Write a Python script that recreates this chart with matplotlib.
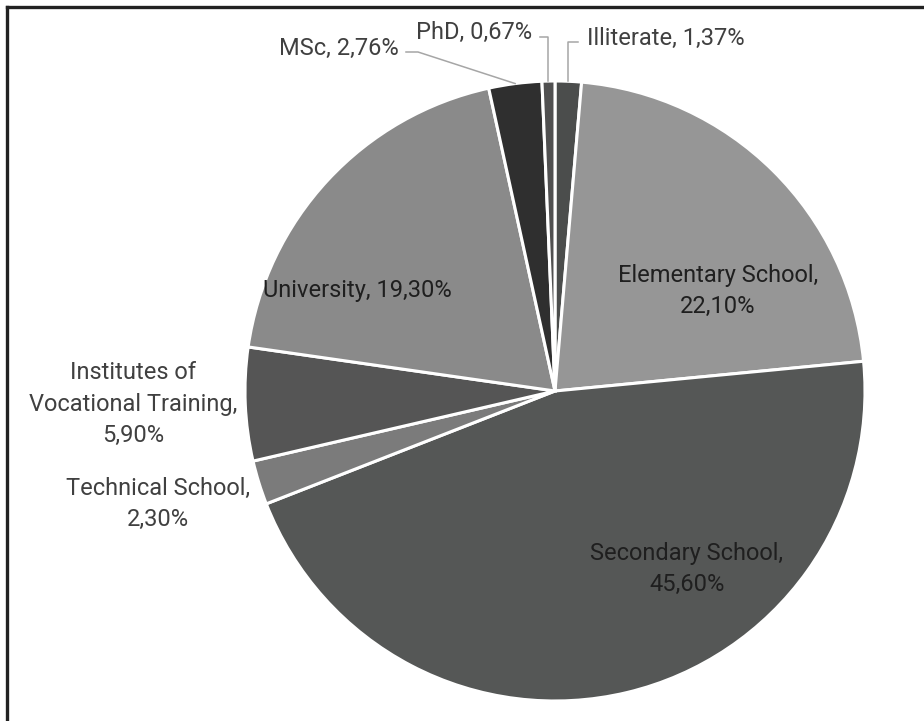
import matplotlib
matplotlib.use("Agg")
import matplotlib.pyplot as plt
import numpy as np

# Education level distribution (clockwise from 12 o'clock)
categories = ["Illiterate", "Elementary School", "Secondary School", "Technical School",
              "Institutes of\nVocational Training", "University", "MSc", "PhD"]
shares = [1.37, 22.10, 45.60, 2.30, 5.90, 19.30, 2.76, 0.67]
value_labels = ["1,37%", "22,10%", "45,60%", "2,30%", "5,90%", "19,30%", "2,76%", "0,67%"]
colors = ["#4b4d4c", "#969696", "#555756", "#7b7b7b", "#555555", "#8a8a8a", "#2f2f2f", "#505050"]

W, H = 924, 721
fig = plt.figure(figsize=(W / 100, H / 100), dpi=100)
plt.rcParams['font.family'] = ['Roboto', 'DejaVu Sans']

# pie placed in pixel space: centre (555, 391), radius 310
cx, cy, R = 555, 391, 310
ax = fig.add_axes([(cx - R) / W, (H - cy - R) / H, 2 * R / W, 2 * R / H])

wedges, _ = ax.pie(shares, colors=colors, startangle=90, counterclock=False, radius=1,
                   wedgeprops=dict(edgecolor="white", linewidth=2.2))
ax.set_xlim(-1, 1)
ax.set_ylim(-1, 1)
ax.set_aspect('equal')
ax.axis('off')

def px2d(px, py):
    return (px - cx) / R, (cy - py) / R

fs = 17
lsp = 1.45
txt_in = "#1f1f1f"
txt_out = "#404040"

def label(i, sep=", "):
    return categories[i] + sep + value_labels[i]

# labels placed inside the large wedges
for i, (px, py) in {1: (718, 291), 2: (687, 569)}.items():
    x, y = px2d(px, py)
    ax.text(x, y, categories[i] + ",\n" + value_labels[i], ha="center", va="center",
            fontsize=fs, color=txt_in, linespacing=lsp)
x, y = px2d(357, 290)
ax.text(x, y, label(5), ha="center", va="center", fontsize=fs, color=txt_in)

# outside labels on the left
x, y = px2d(133, 404)
ax.text(x, y, categories[4] + ",\n" + value_labels[4], ha="center", va="center",
        fontsize=fs, color=txt_out, linespacing=lsp, clip_on=False)
x, y = px2d(158, 504)
ax.text(x, y, categories[3] + ",\n" + value_labels[3], ha="center", va="center",
        fontsize=fs, color=txt_out, linespacing=lsp, clip_on=False)

# leader-line labels for the small wedges at the top
def wedge_edge(w):
    a = np.deg2rad((w.theta1 + w.theta2) / 2)
    return np.cos(a), np.sin(a)

line_kw = dict(color="#a6a6a6", linewidth=1.1)

# MSc
ex, ey = wedge_edge(wedges[6])
tx, ty = px2d(339, 48)
kx, ky = px2d(418, 52)
sx, _ = px2d(406, 52)
ax.plot([sx, kx, ex], [ky, ky, ey], clip_on=False, **line_kw)
ax.text(tx, ty, label(6), ha="center", va="center", fontsize=fs, color=txt_out)

# PhD
ex, ey = wedge_edge(wedges[7])
tx, ty = px2d(474, 32)
sx, sy = px2d(540, 37)
ax.plot([sx, ex, ex], [sy, sy, ey], clip_on=False, **line_kw)
ax.text(tx, ty, label(7), ha="center", va="center", fontsize=fs, color=txt_out)

# Illiterate
ex, ey = wedge_edge(wedges[0])
tx, ty = px2d(666, 38)
sx, sy = px2d(578, 42)
ax.plot([ex, ex, sx], [ey, sy, sy], clip_on=False, **line_kw)
ax.text(tx, ty, label(0), ha="center", va="center", fontsize=fs, color=txt_out)

# frame lines along the top and left edges
fig.add_artist(plt.Line2D([7 / W, 1], [1 - 7 / H, 1 - 7 / H], color="#222222", linewidth=2.4))
fig.add_artist(plt.Line2D([7 / W, 7 / W], [0, 1 - 7 / H], color="#222222", linewidth=2.4))

fig.savefig("out.png", dpi=100, facecolor="white")
